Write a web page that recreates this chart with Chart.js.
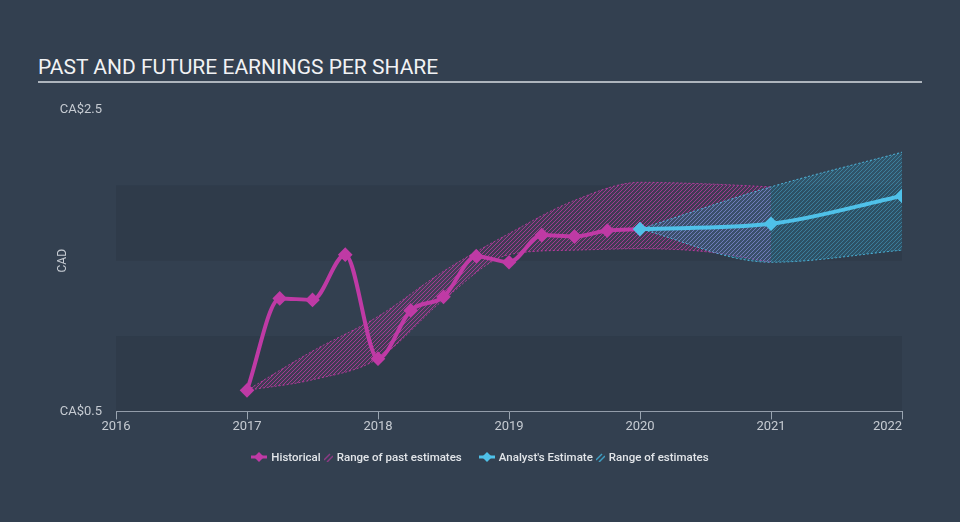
<!DOCTYPE html>
<html>
<head>
<meta charset="utf-8">
<title>Past and future earnings per share</title>
<script src="https://cdn.jsdelivr.net/npm/chart.js@4.4.1/dist/chart.umd.min.js"></script>
<style>
    body {
        margin: 0;
        width: 960px;
        height: 522px;
        overflow: hidden;
        background: #334050;
        font-family: Roboto, "Noto Sans", sans-serif;
        position: relative;
    }
    #title {
        position: absolute;
        left: 38px;
        top: 55px;
        width: 884px;
        color: #f1f2f4;
        font-size: 21px;
        line-height: 24px;
        padding-bottom: 2px;
        border-bottom: 2px solid #aeb5bd;
    }
    #chartBox {
        position: absolute;
        left: 0;
        top: 0;
        width: 960px;
        height: 522px;
    }
    #legend {
        position: absolute;
        left: 0;
        top: 450px;
        width: 960px;
        display: flex;
        justify-content: center;
        align-items: center;
        color: #e2e5e9;
        font-size: 11.5px;
        font-weight: 500;
    }
    .item { display: flex; align-items: center; }
    .item svg { margin-right: 4px; }
    .gap { width: 17px; }
</style>
</head>
<body>

<div id="title">PAST AND FUTURE EARNINGS PER SHARE</div>
<div id="chartBox"><canvas id="epsChart"></canvas></div>

<div id="legend">
    <span class="item">
        <svg width="16" height="10"><line x1="0" y1="5" x2="16" y2="5" stroke="#bf3aa5" stroke-width="3"/><polygon points="8,0 13,5 8,10 3,5" fill="#bf3aa5"/></svg>
        Historical
    </span>
    <span class="item" style="margin-left:3px">
        <svg width="9" height="9"><line x1="0" y1="7" x2="6" y2="1" stroke="#8f3a86" stroke-width="1.5"/><line x1="3" y1="9" x2="9" y2="3" stroke="#8f3a86" stroke-width="1.5"/></svg>
        Range of past estimates
    </span>
    <span class="gap"></span>
    <span class="item">
        <svg width="16" height="10"><line x1="0" y1="5" x2="16" y2="5" stroke="#4fc1e9" stroke-width="3"/><polygon points="8,0 13,5 8,10 3,5" fill="#4fc1e9"/></svg>
        Analyst's Estimate
    </span>
    <span class="item" style="margin-left:3px">
        <svg width="9" height="9"><line x1="0" y1="7" x2="6" y2="1" stroke="#3f9fc4" stroke-width="1.5"/><line x1="3" y1="9" x2="9" y2="3" stroke="#3f9fc4" stroke-width="1.5"/></svg>
        Range of estimates
    </span>
</div>

<script>
// ============================================
// Data
// ============================================

// historical EPS, quarterly
const histDates = [2017.0, 2017.25, 2017.5, 2017.75, 2018.0, 2018.25, 2018.5, 2018.75, 2019.0, 2019.25, 2019.5, 2019.75, 2020.0];
const histEps   = [0.64, 1.25, 1.24, 1.54, 0.85, 1.17, 1.26, 1.53, 1.49, 1.67, 1.66, 1.70, 1.71];

// analyst estimates
const estDates = [2020.0, 2021.0, 2022.0];
const estEps   = [1.71, 1.745, 1.93];

// range of past estimates
const pastRangeDates = [2017.0, 2017.5, 2018.0, 2018.5, 2019.0, 2019.5, 2020.0, 2020.5, 2021.0];
const pastRangeLow   = [0.64, 0.71, 0.85, 1.24, 1.54, 1.57, 1.58, 1.56, 1.49];
const pastRangeHigh  = [0.64, 0.90, 1.13, 1.43, 1.68, 1.90, 2.02, 2.01, 1.99];

// range of future estimates
const futureRangeDates = [2020.0, 2021.0, 2022.0];
const futureRangeLow   = [1.71, 1.49, 1.57];
const futureRangeHigh  = [1.71, 1.99, 2.22];

// axes
const yearTicks = [2016, 2017, 2018, 2019, 2020, 2021, 2022];
const yMin = 0.5;
const yMax = 2.5;
const yLabelled = [0.5, 2.5];
const bands = [[0.5, 1.0], [1.5, 2.0]];

// colours
const MAGENTA = "#bf3aa5";
const CYAN = "#4fc1e9";
const TICK_TEXT = "#c6cbd2";

const toPoints = (xs, ys) => xs.map((x, i) => ({ x, y: ys[i] }));

// diagonal hatch pattern
function hatch(lineColor, fillColor) {
    const size = 4;
    const c = document.createElement("canvas");
    c.width = size;
    c.height = size;
    const g = c.getContext("2d");
    g.fillStyle = fillColor;
    g.fillRect(0, 0, size, size);
    g.strokeStyle = lineColor;
    g.lineWidth = 1;
    g.beginPath();
    g.moveTo(0, size); g.lineTo(size, 0);
    g.moveTo(-1, 1); g.lineTo(1, -1);
    g.moveTo(size - 1, size + 1); g.lineTo(size + 1, size - 1);
    g.stroke();
    return g.createPattern(c, "repeat");
}

// shaded horizontal bands behind the data
const bandPlugin = {
    id: "bands",
    beforeDatasetsDraw(chart) {
        const { ctx, chartArea, scales } = chart;
        ctx.save();
        ctx.fillStyle = "rgba(20, 30, 42, 0.13)";
        bands.forEach(([lo, hi]) => {
            const top = scales.y.getPixelForValue(hi);
            const bottom = scales.y.getPixelForValue(lo);
            ctx.fillRect(chartArea.left, top, chartArea.right - chartArea.left, bottom - top);
        });
        ctx.restore();
    }
};

document.addEventListener("DOMContentLoaded", () => {
    const canvas = document.getElementById("epsChart");
    const ctx = canvas.getContext("2d");

    const pastFill = hatch("rgba(200, 58, 168, 0.72)", "rgba(190, 55, 160, 0.12)");
    const futureFill = hatch("rgba(79, 193, 233, 0.4)", "rgba(40, 150, 190, 0.24)");

    const lineOpts = {
        borderWidth: 4,
        pointStyle: "rectRot",
        pointRadius: 4.5,
        pointHoverRadius: 4.5,
        cubicInterpolationMode: "monotone",
        fill: false
    };
    const rangeOpts = {
        borderWidth: 1,
        borderDash: [2, 2],
        pointRadius: 0,
        cubicInterpolationMode: "monotone"
    };

    new Chart(ctx, {
        type: "line",
        data: {
            datasets: [
                {
                    label: "Historical",
                    data: toPoints(histDates, histEps),
                    borderColor: MAGENTA,
                    backgroundColor: MAGENTA,
                    order: 1,
                    ...lineOpts
                },
                {
                    label: "Analyst's Estimate",
                    data: toPoints(estDates, estEps),
                    borderColor: CYAN,
                    backgroundColor: CYAN,
                    order: 0,
                    ...lineOpts
                },
                {
                    label: "past low",
                    data: toPoints(pastRangeDates, pastRangeLow),
                    borderColor: "rgba(196, 58, 166, 0.85)",
                    fill: false,
                    order: 5,
                    ...rangeOpts
                },
                {
                    label: "Range of past estimates",
                    data: toPoints(pastRangeDates, pastRangeHigh),
                    borderColor: "rgba(196, 58, 166, 0.85)",
                    backgroundColor: pastFill,
                    fill: 2,
                    order: 4,
                    ...rangeOpts
                },
                {
                    label: "future low",
                    data: toPoints(futureRangeDates, futureRangeLow),
                    borderColor: "rgba(84, 196, 236, 0.85)",
                    fill: false,
                    order: 3,
                    ...rangeOpts
                },
                {
                    label: "Range of estimates",
                    data: toPoints(futureRangeDates, futureRangeHigh),
                    borderColor: "rgba(84, 196, 236, 0.85)",
                    backgroundColor: futureFill,
                    fill: 4,
                    order: 2,
                    ...rangeOpts
                }
            ]
        },
        options: {
            responsive: true,
            maintainAspectRatio: false,
            animation: false,
            layout: { padding: { left: 56, top: 110, right: 58, bottom: 87 } },
            plugins: {
                legend: { display: false },
                tooltip: { enabled: false },
                filler: { propagate: false }
            },
            scales: {
                x: {
                    type: "linear",
                    min: yearTicks[0],
                    max: yearTicks[yearTicks.length - 1],
                    afterBuildTicks: (scale) => {
                        scale.ticks = yearTicks.map((v) => ({ value: v }));
                    },
                    ticks: {
                        color: TICK_TEXT,
                        font: { family: "Roboto", size: 13 },
                        padding: 0,
                        maxRotation: 0,
                        autoSkip: false,
                        // last label sits flush with the right edge
                        callback: (v) => v === yearTicks[yearTicks.length - 1] ? v + "         " : String(v)
                    },
                    grid: {
                        drawOnChartArea: false,
                        drawTicks: true,
                        tickLength: 8,
                        color: "#9aa5b1"
                    },
                    border: { display: true, color: "#9aa5b1", width: 1 }
                },
                y: {
                    min: yMin,
                    max: yMax,
                    afterFit: (scale) => { scale.width = 60; },
                    ticks: {
                        stepSize: 0.5,
                        color: TICK_TEXT,
                        font: { family: "Roboto", size: 13 },
                        padding: 6,
                        callback: (v) => yLabelled.some((l) => Math.abs(l - v) < 1e-9) ? "CA$" + v : ""
                    },
                    grid: { display: false },
                    border: { display: false },
                    title: {
                        display: true,
                        text: "CAD",
                        color: TICK_TEXT,
                        font: { family: "Roboto", size: 12 },
                        padding: 0
                    }
                }
            }
        },
        plugins: [bandPlugin]
    });
});
</script>
</body>
</html>
